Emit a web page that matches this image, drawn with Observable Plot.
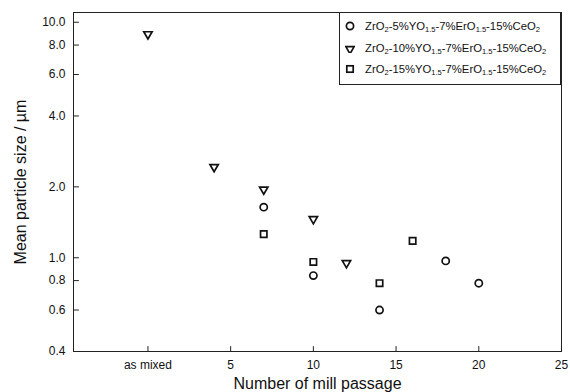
<!DOCTYPE html>
<html>
<head>
<meta charset="utf-8">
<script src="https://cdn.jsdelivr.net/npm/d3@7"></script>
<script src="https://cdn.jsdelivr.net/npm/@observablehq/plot@0.6"></script>
<style>
  html, body { margin: 0; padding: 0; background: #fff; }
  #wrap { position: relative; width: 570px; height: 392px; font-family: "Liberation Sans", Arial, Helvetica, sans-serif; color: #111; }
  #legend { position: absolute; left: 339px; top: 12px; width: 222px; height: 73px; border: 1px solid #222; background: #fff; box-sizing: border-box; }
  #legend .row { position: absolute; left: 0; height: 14px; display: flex; align-items: center; font-size: 11.3px; white-space: nowrap; }
  #legend svg { margin-left: 5px; margin-right: 10px; }
  #legend sub { font-size: 7.5px; vertical-align: -2px; line-height: 0; }
</style>
</head>
<body>
<div id="wrap"></div>
<script>
// Data
const seriesNames = ["5%YO", "10%YO", "15%YO"];
const xTicks = [0, 5, 10, 15, 20, 25];
const xTickLabels = ["as mixed", "5", "10", "15", "20", "25"];
const yTicks = [0.4, 0.6, 0.8, 1.0, 2.0, 4.0, 6.0, 8.0, 10.0];

const s1x = [7, 10, 14, 18, 20];
const s1y = [1.64, 0.84, 0.60, 0.97, 0.78];
const s2x = [0, 4, 7, 10, 12];
const s2y = [8.9, 2.43, 1.95, 1.46, 0.95];
const s3x = [7, 10, 14, 16];
const s3y = [1.26, 0.96, 0.78, 1.18];

const xLabel = "Number of mill passage";
const yLabel = "Mean particle size / \u00b5m";

const d1 = s1x.map((x, i) => ({x, y: s1y[i]}));
const d2 = s2x.map((x, i) => ({x, y: s2y[i]}));
const d3s = s3x.map((x, i) => ({x, y: s3y[i]}));

const ink = "#111";
const tickShape = {draw(context, l) { context.moveTo(0, 0); context.lineTo(0, -l); }};

const chart = Plot.plot({
  width: 570,
  height: 392,
  marginLeft: 73,
  marginRight: 9,
  marginTop: 12,
  marginBottom: 41,
  style: {fontFamily: "'Liberation Sans', Arial, Helvetica, sans-serif", fontSize: "12px", color: ink, background: "#fff"},
  x: {domain: [-4.5, 25], axis: null},
  y: {type: "log", domain: [0.4, 11], axis: null},
  marks: [
    Plot.frame({stroke: "#222", strokeWidth: 1}),
    // x ticks (inward) and labels
    Plot.vector(xTicks, {x: (d) => d, frameAnchor: "bottom", length: 5, anchor: "start", shape: tickShape, stroke: "#222", strokeWidth: 1}),
    Plot.text(xTicks, {x: (d) => d, frameAnchor: "bottom", text: (d) => xTickLabels[xTicks.indexOf(d)], dy: 14, lineAnchor: "middle", textAnchor: "middle", fontSize: 12, fill: ink}),
    // y ticks (inward) and labels
    Plot.vector(yTicks, {y: (d) => d, frameAnchor: "left", length: 5, rotate: 90, anchor: "start", shape: tickShape, stroke: "#222", strokeWidth: 1}),
    Plot.text(yTicks, {y: (d) => d, frameAnchor: "left", text: (d) => d.toFixed(1), dx: -8, textAnchor: "end", lineAnchor: "middle", fontSize: 12, fill: ink}),
    Plot.dot(d1, {x: "x", y: "y", symbol: "circle", r: 3.6, stroke: ink, strokeWidth: 1.7, fill: "none"}),
    Plot.dot(d2, {x: "x", y: "y", symbol: "triangle", rotate: 180, r: 3.1, stroke: ink, strokeWidth: 1.7, fill: "none"}),
    Plot.dot(d3s, {x: "x", y: "y", symbol: "square", r: 3.6, stroke: ink, strokeWidth: 1.7, fill: "none"}),
    Plot.text([xLabel], {frameAnchor: "bottom", dy: 37, lineAnchor: "bottom", textAnchor: "middle", fontSize: 16, fill: ink}),
    Plot.text([yLabel], {frameAnchor: "left", dx: -53, dy: 0, rotate: -90, textAnchor: "middle", lineAnchor: "middle", fontSize: 16, fill: ink})
  ]
});

const wrap = document.getElementById("wrap");
wrap.appendChild(chart);

// Legend overlay
const sym = {
  circle: '<svg width="10" height="10" viewBox="-5 -5 10 10"><circle r="3.6" fill="none" stroke="#111" stroke-width="1.7"/></svg>',
  tri: '<svg width="10" height="10" viewBox="-5 -5 10 10"><path d="' + d3.symbol(d3.symbolTriangle, Math.PI * 3.1 * 3.1)() + '" transform="rotate(180) translate(0,-1)" fill="none" stroke="#111" stroke-width="1.7"/></svg>',
  square: '<svg width="10" height="10" viewBox="-5 -5 10 10"><rect x="-3.2" y="-3.2" width="6.4" height="6.4" fill="none" stroke="#111" stroke-width="1.7"/></svg>'
};
const legendRows = [
  {s: sym.circle, pct: "5"},
  {s: sym.tri, pct: "10"},
  {s: sym.square, pct: "15"}
];
const legend = document.createElement("div");
legend.id = "legend";
legendRows.forEach((r, i) => {
  const row = document.createElement("div");
  row.className = "row";
  row.style.top = (6 + i * 21.5) + "px";
  row.innerHTML = r.s + `<span>ZrO<sub>2</sub>-${r.pct}%YO<sub>1.5</sub>-7%ErO<sub>1.5</sub>-15%CeO<sub>2</sub></span>`;
  legend.appendChild(row);
});
wrap.appendChild(legend);
</script>
</body>
</html>
